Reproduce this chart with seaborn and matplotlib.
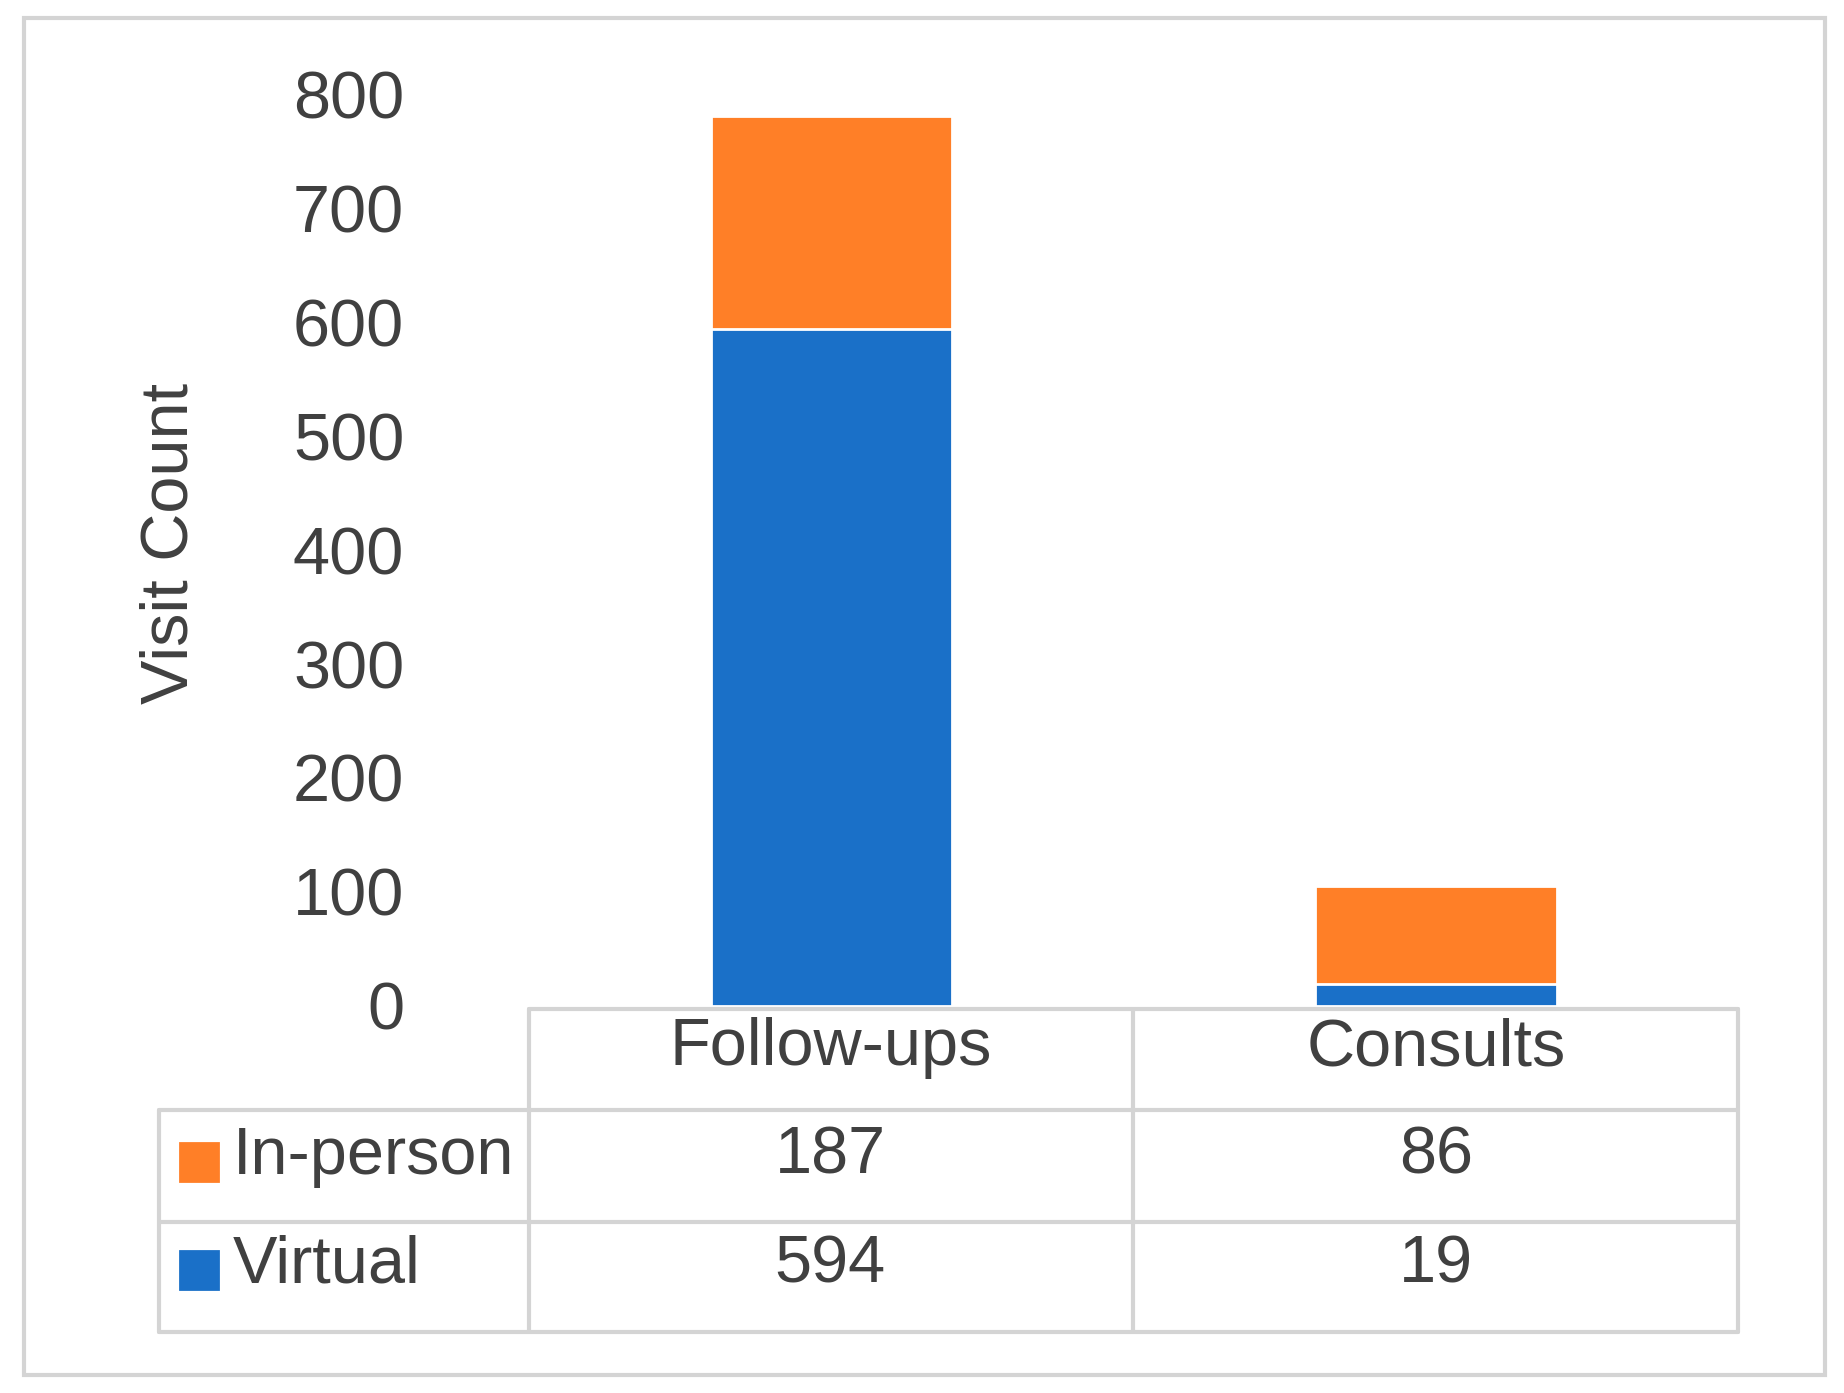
import pandas as pd
import matplotlib
matplotlib.use('Agg')
import matplotlib.pyplot as plt
from matplotlib.lines import Line2D
from matplotlib.patches import Rectangle
import seaborn as sns

categories = ['Follow-ups', 'Consults']
in_person = [187, 86]
virtual = [594, 19]
series = ['In-person', 'Virtual']
yticks = [0, 100, 200, 300, 400, 500, 600, 700, 800]

orange = '#FF7F27'
blue = '#1A70C8'
grid = '#d4d4d4'
txt = '#404040'

df = pd.DataFrame({'cat': categories, 'virtual': virtual,
                   'total': [a + b for a, b in zip(in_person, virtual)]})

sns.set_style('white')
plt.rcParams['font.family'] = ['Liberation Sans', 'DejaVu Sans']

W, H = 1568.0, 1180.0
def fx(x):
    return x / W
def fy(y):
    return 1 - y / H

fig = plt.figure(figsize=(9.22, 6.965), dpi=200)
ax = fig.add_axes([fx(450), fy(852), fx(1478) - fx(450), fy(80) - fy(852)])
sns.barplot(data=df, x='cat', y='total', color=orange, width=0.4, ax=ax, saturation=1)
sns.barplot(data=df, x='cat', y='virtual', color=blue, width=0.4, ax=ax, saturation=1)
ax.set_ylim(0, 800)
ax.set_xlim(-0.5, 1.5)
ax.set_yticks(yticks)
ax.set_yticklabels([str(t) for t in yticks], fontsize=24, color=txt)
ax.tick_params(axis='y', length=0, pad=45)
ax.set_xticks([])
ax.set_xlabel('')
ax.set_ylabel('')
sns.despine(ax=ax, left=True, bottom=True)

fig.text(fx(145), fy(460), 'Visit Count', rotation=90, ha='center', va='center',
         fontsize=24, color=txt)

# outer frame
fig.add_artist(Rectangle((fx(20), fy(1165)), fx(1552) - fx(20), fy(15) - fy(1165),
                         transform=fig.transFigure, fill=False, ec=grid, lw=1.5))

# data table
def line(x0, y0, x1, y1):
    fig.add_artist(Line2D([fx(x0), fx(x1)], [fy(y0), fy(y1)], color=grid, lw=1.5))

for x in [450, 963, 1478]:
    line(x, 855, x, 1128)
line(135, 940, 135, 1128)
line(450, 855, 1478, 855)
for y in [940, 1035, 1128]:
    line(135, y, 1478, y)

cx = [706, 1221]
for c, name in zip(cx, categories):
    fig.text(fx(c), fy(888), name, ha='center', va='center', fontsize=24, color=txt)
rows_y = [980, 1072]
colors = [orange, blue]
vals = [in_person, virtual]
for ry, name, col, v in zip(rows_y, series, colors, vals):
    fig.add_artist(Rectangle((fx(153), fy(ry + 20)), fx(32), fy(0) - fy(32),
                             transform=fig.transFigure, color=col))
    fig.text(fx(198), fy(ry), name, ha='left', va='center', fontsize=24, color=txt)
    for c, val in zip(cx, v):
        fig.text(fx(c), fy(ry), str(val), ha='center', va='center', fontsize=24, color=txt)

fig.savefig('out.png', dpi=200, facecolor='white')
